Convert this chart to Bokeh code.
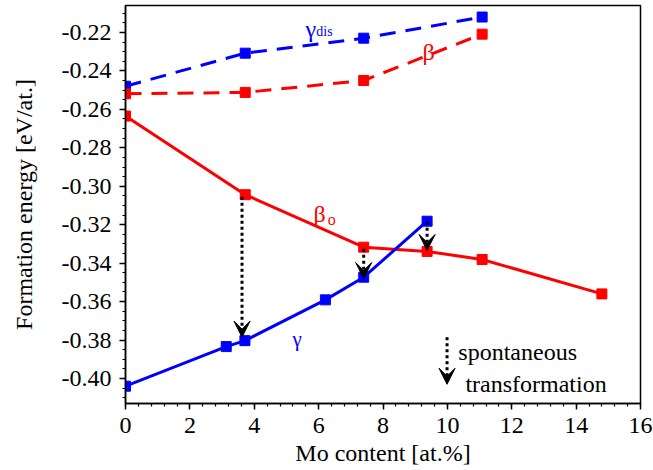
from bokeh.plotting import figure
from bokeh.models import (FixedTicker, NumeralTickFormatter, Arrow, VeeHead,
                          ColumnDataSource, Label, Range1d)
from bokeh.embed import file_html
from bokeh.resources import INLINE

# ---- data ----
x_gdis = [0, 3.72, 7.4, 11.08]
y_gdis = [-0.248, -0.2308, -0.223, -0.212]

x_beta = [0, 3.72, 7.4, 11.08]
y_beta = [-0.2519, -0.2512, -0.245, -0.2209]

x_beta_o = [0, 3.72, 7.4, 9.37, 11.08, 14.8]
y_beta_o = [-0.2635, -0.3044, -0.3317, -0.3339, -0.3381, -0.356]

x_gamma = [0, 3.13, 3.71, 6.21, 7.4, 9.37]
y_gamma = [-0.404, -0.3834, -0.3803, -0.3591, -0.3473, -0.3182]

arrow_x = [3.62, 7.4, 9.37, 9.99]
arrow_y0 = [-0.3055, -0.3325, -0.3185, -0.3785]
arrow_y1 = [-0.3785, -0.348, -0.3334, -0.403]

x_ticks = [0, 2, 4, 6, 8, 10, 12, 14, 16]
y_ticks = [-0.40, -0.38, -0.36, -0.34, -0.32, -0.30, -0.28, -0.26, -0.24, -0.22]

BLUE = "#0000FF"
RED = "#FF0000"
FONT = "Liberation Serif"

p = figure(width=653, height=470, output_backend="svg", toolbar_location=None,
           x_range=Range1d(0, 16), y_range=Range1d(-0.413, -0.206),
           min_border_left=125, min_border_right=13, min_border_top=5,
           min_border_bottom=67)
p.grid.visible = False
p.outline_line_color = "black"
p.outline_line_width = 1.5

p.xaxis.ticker = FixedTicker(ticks=x_ticks,
                             minor_ticks=[i * 0.4 for i in range(41)])
p.yaxis.ticker = FixedTicker(ticks=y_ticks,
                             minor_ticks=[-0.415 + i * 0.005 for i in range(43)])
p.yaxis.formatter = NumeralTickFormatter(format="0.00")
for ax in (p.xaxis, p.yaxis):
    ax.major_label_text_font = FONT
    ax.major_label_text_font_size = "24px"
    ax.major_label_text_color = "black"
    ax.axis_label_text_font = FONT
    ax.axis_label_text_font_size = "24px"
    ax.axis_label_text_font_style = "normal"
    ax.axis_label_text_color = "black"
    ax.axis_line_width = 1.5
    ax.axis_line_color = "black"
    ax.major_tick_line_color = "black"
    ax.minor_tick_line_color = "black"
    ax.major_tick_line_width = 1.5
    ax.minor_tick_line_width = 1.2
    ax.major_tick_out = 6
    ax.major_tick_in = 0
    ax.minor_tick_out = 3
    ax.minor_tick_in = 0
p.xaxis.axis_label = "Mo content [at.%]"
p.yaxis.axis_label = "Formation energy [eV/at.]"
p.xaxis.major_label_standoff = 8
p.xaxis.axis_label_standoff = 4
p.yaxis.major_label_standoff = 8
p.yaxis.axis_label_standoff = 22

p.line(x_gdis, y_gdis, line_color=BLUE, line_width=3, line_dash="16 10")
p.line(x_beta, y_beta, line_color=RED, line_width=3, line_dash="16 10")
p.line(x_beta_o, y_beta_o, line_color=RED, line_width=3)
p.line(x_gamma, y_gamma, line_color=BLUE, line_width=3)

for xs, ys, c in ((x_gdis, y_gdis, BLUE), (x_beta, y_beta, RED),
                  (x_beta_o, y_beta_o, RED), (x_gamma, y_gamma, BLUE)):
    p.scatter(xs, ys, marker="square", size=10, fill_color=c, line_color=c)

src = ColumnDataSource(dict(x0=arrow_x, y0=arrow_y0, x1=arrow_x, y1=arrow_y1))
p.add_layout(Arrow(x_start="x0", y_start="y0", x_end="x1", y_end="y1",
                   source=src, line_color="black", line_width=3,
                   line_dash="3 3",
                   end=VeeHead(size=16, fill_color="black", line_color="black",
                               line_width=1)))

def lab(x, y, t, c, size, font=FONT):
    p.add_layout(Label(x=x, y=y, text=t, text_color=c, text_font=font,
                       text_font_size=size, text_baseline="alphabetic",
                       text_align="left"))

lab(5.59, -0.2184, "γ", BLUE, "24px")
lab(5.93, -0.2195, "dis", BLUE, "14px")
lab(9.23, -0.2304, "β", RED, "24px")
lab(5.84, -0.3142, "β", RED, "24px")
lab(6.28, -0.3173, "o", RED, "16px")
lab(5.19, -0.3797, "γ", BLUE, "21px")
lab(10.34, -0.3863, "spontaneous", "black", "24px")
lab(10.56, -0.4031, "transformation", "black", "24px")

open("out.html", "w").write(file_html(p, INLINE))
